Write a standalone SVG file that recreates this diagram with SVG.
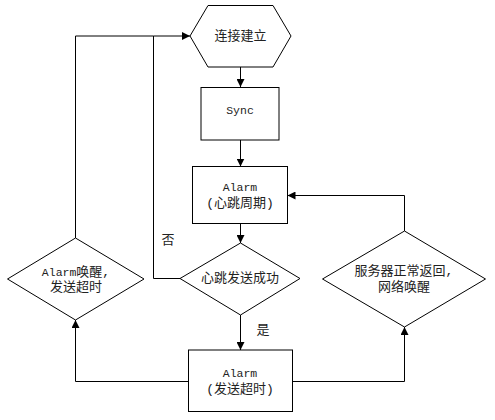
<svg xmlns="http://www.w3.org/2000/svg" width="495" height="420" viewBox="0 0 495 420">
<style>
.s{fill:#fff;stroke:#000;stroke-width:1}
.c{fill:none;stroke:#000;stroke-width:1}
text{font-family:"Liberation Mono","Noto Sans CJK SC",monospace;font-size:13px;fill:#222;text-anchor:middle;dominant-baseline:central}
.l{font-size:11.5px}
</style>
<defs>
<marker id="a" viewBox="0 0 10 10" refX="10" refY="5" markerWidth="8" markerHeight="8" markerUnits="userSpaceOnUse" orient="auto">
<path d="M0,0L10,5L0,10Z" fill="#000"/>
</marker>
</defs>
<rect width="495" height="420" fill="#fff"/>
<g id="connectors">
<path class="c" d="M240.5,67V87" marker-end="url(#a)"/>
<path class="c" d="M240.5,140V166.5" marker-end="url(#a)"/>
<path class="c" d="M240.5,223.5V243" marker-end="url(#a)"/>
<path class="c" d="M240.5,315V350" marker-end="url(#a)"/>
<path class="c" d="M180,278.5H153.5V36H190" marker-end="url(#a)"/>
<path class="c" d="M75.5,238V36H153.5"/>
<path class="c" d="M188.5,381.5H75.5V320" marker-end="url(#a)"/>
<path class="c" d="M292.5,381.5H404.5V327" marker-end="url(#a)"/>
<path class="c" d="M404.5,231V195.5H287.5" marker-end="url(#a)"/>
<text x="168" y="240">否</text>
<text x="263" y="330">是</text>
</g>
<g id="n1">
<polygon class="s" points="190,36 208,5.5 273,5.5 291,36 273,67 208,67"/>
<text x="240.5" y="36">连接建立</text>
</g>
<g id="n2">
<rect class="s" x="201" y="87.5" width="78" height="52.5"/>
<text class="l" x="240" y="110">Sync</text>
</g>
<g id="n3">
<rect class="s" x="192.5" y="166.5" width="95" height="57"/>
<text class="l" x="240" y="187">Alarm</text>
<text x="240" y="203">(心跳周期)</text>
</g>
<g id="n4">
<polygon class="s" points="180,278.5 240.5,243 300,278.5 240.5,315"/>
<text x="240" y="278.5">心跳发送成功</text>
</g>
<g id="n5">
<polygon class="s" points="7.5,279 75.5,238 144,279 75.5,320"/>
<text x="76" y="272"><tspan class="l">Alarm</tspan>唤醒,</text>
<text x="76" y="287.5">发送超时</text>
</g>
<g id="n6">
<polygon class="s" points="322.5,279 404.5,231 485.5,279 404.5,327"/>
<text x="404" y="271">服务器正常返回,</text>
<text x="404" y="287.5">网络唤醒</text>
</g>
<g id="n7">
<rect class="s" x="188.5" y="350" width="104" height="61.5"/>
<text class="l" x="240" y="373">Alarm</text>
<text x="240" y="389.5">(发送超时)</text>
</g>
</svg>
